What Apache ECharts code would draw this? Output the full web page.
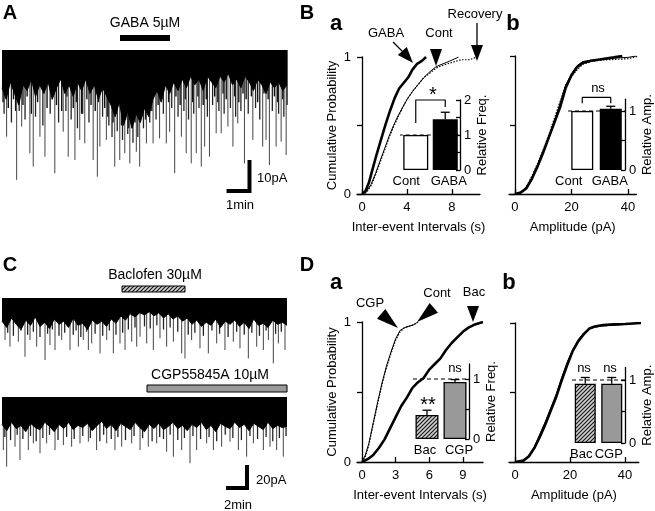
<!DOCTYPE html>
<html><head><meta charset="utf-8">
<script src="https://cdn.jsdelivr.net/npm/echarts@6/dist/echarts.min.js"></script>
<style>html,body{margin:0;padding:0;background:#fff}#c{width:655px;height:511px}</style>
</head><body><div id="c"></div>
<script>
// ---------------- DATA ----------------
// Panel A trace (time in min, current depth in pA below baseline)
const traceA_envT = [0,0.2,0.4,0.6,0.8,1.0,1.2,1.4,1.6,1.8,2.0,2.2,2.4,2.6,2.8,3.0,3.2,3.4,3.6,3.8,4.0,4.2,4.4,4.6,4.8,5.0,5.2,5.4,5.6,5.8,6.0,6.2,6.4,6.6,6.8,7.0,7.2,7.4,7.6,7.8,8.0,8.2,8.4,8.6,8.8,9.0,9.2,9.4,9.6,9.8,10.0,10.2,10.4,10.6,10.8,11.0,11.2,11.4,11.6,11.8,12.0,12.2,12.4,12.6,12.8,13.0,13.2,13.4,13.6];
const traceA_envDepth = [13,17,11,15,19,12, 14,10,16,12,15, 11,17,13,10,15, 12,16,11,14,10, 15,12,17,13,16, 19,23,18,26,21, 27,22,25,20,23, 17,14,18,12,15, 11,14,10,13,9, 12,10,14,9,11, 13,9,11,8,12, 10,13,9,11,14, 10,12,15,11,13, 11,14,12];
const traceA_bigT = [0.22,0.70,0.94,1.33,1.49,1.81,2.05,2.52,2.92,3.16,3.48,3.71,3.95,4.35,4.55,4.67,4.98,5.38,5.62,5.86,6.10,6.41,6.57,6.89,7.21,7.52,7.84,8.00,8.24,8.56,8.79,9.03,9.27,9.51,9.67,9.90,10.22,10.46,10.78,11.02,11.25,11.57,11.97,12.44,12.60,12.76,13.08,13.32,13.56];
const traceA_bigAmp = [29.9,44.8,26.4,35.6,40.2,29.9,36.8,42.5,28.2,36.8,37.9,31.0,32.2,37.9,43.7,33.3,31.0,40.2,37.9,35.6,39.1,35.1,40.2,32.2,32.2,30.5,32.2,28.2,42.5,29.9,35.6,39.1,35.6,40.2,33.3,36.8,28.7,28.7,26.4,33.3,25.3,39.1,31.0,33.3,31.0,39.7,33.3,31.6,36.2];
const traceA_midT = [0.1,0.45,0.82,1.1,1.6,1.95,2.3,2.7,3.05,3.3,3.6,3.85,4.15,4.8,5.1,5.25,5.5,5.75,6.0,6.25,6.48,6.75,7.05,7.35,7.7,8.1,8.4,8.68,8.9,9.15,9.4,9.8,10.05,10.35,10.6,10.9,11.15,11.4,11.75,12.1,12.3,12.9,13.2,13.45];
const traceA_midAmp = [22,25,21,24,23,26,22,25,21,24,27,22,25,23,26,30,28,31,29,32,30,27,25,24,22,20,23,21,24,22,20,23,19,21,22,20,23,21,22,20,24,21,22,23];
const traceA_smallT = [0.05,0.3,0.55,0.65,1.0,1.2,1.4,1.7,2.15,2.4,2.6,2.85,3.1,3.4,3.55,3.8,4.05,4.25,4.45,4.6,4.9,5.05,5.3,5.45,5.7,5.9,6.05,6.2,6.35,6.6,6.85,7.0,7.15,7.45,7.6,7.95,8.3,8.5,8.75,9.1,9.35,9.6,9.75,10.15,10.3,10.55,10.7,11.1,11.3,11.5,11.65,11.9,12.2,12.5,12.7,13.0,13.15,13.4,13.6];
const traceA_smallAmp = [18,20,17,21,19,16,22,18,20,17,19,21,16,20,18,22,17,19,21,18,20,23,25,22,26,24,27,23,25,22,24,20,21,19,17,18,16,19,17,18,16,19,17,16,18,15,17,16,18,15,17,16,18,15,17,16,18,17,19];

// Panel C traces (time in min, pA)
const traceC_envT = [0,0.5,1,1.5,2,2.5,3,3.5,4,4.5,5,5.5,6,6.5,7,7.5,8,8.5,9,9.5,10,10.5,11,11.5,12,12.5,13,13.5,14,14.5,15,15.5,16,16.5,17,17.5,18,18.5,19,19.5,20,20.5,21,21.5,22,22.5,23,23.5,24,24.5,25,25.5,26,26.5,27,27.5,28,28.5,29,29.5,30];
const traceC1_envDepth = [22,28,19,25,30,21,26,18,27,23, 29,20,25,22,28,19,26,24,30,21, 25,22,27,20,24,17,21,15,18,14, 16,13,17,14,19,15,20,17,22,19, 25,21,27,23,26,20,28,22,25,21, 27,23,29,20,26,24,28,21,25,23, 26];
const traceC2_envDepth = [26,32,24,30,27,33,25,29,31,24, 28,33,26,30,24,31,27,29,25,32, 27,23,30,26,32,25,28,31,24,29, 33,26,30,25,31,28,24,30,27,32, 26,29,24,31,27,33,25,28,30,24, 29,26,32,25,28,31,24,30,27,29, 28];
const traceC1_spikeT = [0.32,0.84,1.72,2.42,2.95,3.65,4.53,5.05,5.58,6.28,7.16,8.04,8.56,9.09,9.44,10.32,11.02,11.72,12.42,12.95,13.65,14.18,14.53,15.23,15.93,16.63,17.33,18.04,18.91,19.26,19.96,20.84,21.72,22.60,23.47,24.35,25.05,25.93,26.81,27.51,28.04,28.56,29.09,29.79];
const traceC1_spikeAmp = [40.0,46.3,41.6,55.9,40.0,46.3,59.0,44.8,49.5,40.0,49.5,46.3,40.0,49.5,43.2,52.7,40.0,52.7,43.2,49.5,41.6,46.3,36.8,43.2,49.5,38.4,46.3,41.6,52.7,57.5,40.0,47.9,52.7,43.2,49.5,41.6,47.9,57.5,46.3,49.5,40.0,62.2,43.2,49.5];
const traceC1_midT = [0.6,1.2,2.0,2.7,3.3,4.0,4.8,5.3,6.0,6.6,7.5,7.8,8.3,8.9,9.8,10.6,11.3,12.0,12.7,13.3,14.0,15.0,15.6,16.3,17.0,17.7,18.5,19.6,20.3,21.2,22.1,22.9,23.8,24.7,25.5,26.3,27.1,27.8,28.8,29.4];
const traceC1_midAmp = [33,36,31,35,32,37,34,30,36,33,35,31,37,32,34,36,31,35,33,30,28,27,29,26,30,28,32,35,33,36,31,34,37,32,35,33,36,31,34,32];
const traceC2_spikeT = [0.14,0.49,1.37,1.89,2.77,3.30,4.00,4.70,5.58,6.46,7.33,8.21,9.09,9.96,11.02,11.89,12.60,13.65,14.53,15.40,16.28,17.33,18.04,18.91,19.79,20.49,21.54,22.25,23.12,24.00,24.88,25.75,26.46,27.51,28.21,28.91,29.61];
const traceC2_spikeAmp = [50.5,66.3,47.3,60.0,50.5,44.1,53.7,44.1,50.5,45.7,47.3,44.1,42.5,50.5,44.1,50.5,47.3,44.1,50.5,47.3,44.1,52.1,56.8,50.5,63.1,50.5,44.1,50.5,47.3,42.5,50.5,56.8,44.1,50.5,47.3,50.5,56.8];
const traceC2_midT = [0.3,0.9,1.6,2.2,3.0,3.6,4.3,5.0,5.9,6.8,7.6,8.5,9.3,10.3,10.7,11.5,12.2,13.0,13.9,14.8,15.8,16.6,17.0,17.7,18.5,19.2,20.1,20.9,21.8,22.6,23.5,24.3,25.2,26.1,26.9,27.8,28.5,29.2,29.9];
const traceC2_midAmp = [38,41,36,40,37,42,39,36,41,38,40,37,39,42,36,40,38,41,37,39,42,38,40,36,41,39,37,40,38,42,36,39,41,37,40,38,42,39,37];

// Panel B a: cumulative inter-event intervals (s)
const baGabaX = [0,0.3,0.6,0.9,1.3,1.7,2.1,2.5,2.9,3.3,3.7,4.1,4.5,4.9,5.3,5.7];
const baGabaY = [0,0.02,0.08,0.17,0.29,0.4,0.51,0.61,0.7,0.77,0.81,0.85,0.91,0.95,0.97,1.0];
const baContX = [0,0.4,0.8,1.2,1.6,2.0,2.4,2.8,3.2,3.6,4.0,4.5,5.0,5.5,6.0,6.6,7.2,7.8,8.6];
const baContY = [0,0.02,0.07,0.15,0.24,0.33,0.42,0.5,0.57,0.63,0.69,0.75,0.8,0.85,0.89,0.93,0.95,0.97,1.0];
const baRecX = [0,0.4,0.8,1.2,1.6,2.0,2.4,2.8,3.2,3.6,4.0,4.5,5.0,5.5,6.0,6.6,7.2,8.0,8.8,9.6,10.2];
const baRecY = [0,0.01,0.06,0.14,0.23,0.32,0.41,0.49,0.56,0.63,0.69,0.75,0.8,0.85,0.88,0.92,0.94,0.96,0.98,0.98,1.0];
const baBarCats = ['Cont','GABA'];
const baBarVals = [1.0,1.45];
const baBarErr = [0,0.2];
const baBracket = [1.34,2.0,1.8];

// Panel B b: cumulative amplitude (pA)
const bbContX = [0,2,4,6,8,10,12,14,16,18,20,22,24,27,30,35,40,43];
const bbContY = [0,0.01,0.05,0.12,0.21,0.31,0.42,0.53,0.66,0.79,0.87,0.93,0.96,0.97,0.975,0.985,0.99,1.0];
const bbGabaX = [0,2,4,6,8,10,12,14,16,18,20,22,24,27,30,35,38];
const bbGabaY = [0,0.01,0.04,0.11,0.2,0.3,0.41,0.52,0.63,0.77,0.86,0.92,0.95,0.965,0.975,0.99,1.0];
const bbRecX = [0,2,4,6,8,10,12,14,16,18,20,22,24,27,30,35,40,44];
const bbRecY = [0,0.01,0.05,0.13,0.22,0.32,0.43,0.55,0.67,0.79,0.85,0.9,0.94,0.96,0.97,0.975,0.98,1.0];
const bbBarCats = ['Cont','GABA'];
const bbBarVals = [1.0,1.04];
const bbBarErr = [0,0.04];
const bbBracket = [1.13,1.23,1.13];

// Panel D a
const daCgpX = [0,0.3,0.6,1.0,1.4,1.8,2.2,2.6,3.0,3.4,3.8,4.2,4.6,5.0];
const daCgpY = [0,0.05,0.13,0.28,0.43,0.57,0.69,0.79,0.88,0.94,0.96,0.97,0.98,1.0];
const daContX = [0,0.3,0.6,1.0,1.4,1.8,2.2,2.6,3.0,3.4,3.8,4.2,4.6,5.0];
const daContY = [0,0.04,0.12,0.27,0.42,0.56,0.68,0.78,0.87,0.93,0.96,0.97,0.98,1.0];
const daBacX = [0,0.5,1,1.5,2,2.5,3,3.5,4,4.5,5,5.5,6,6.5,7,7.5,8,8.5,9,9.5,10,10.8];
const daBacY = [0,0.02,0.05,0.1,0.16,0.24,0.32,0.4,0.46,0.53,0.57,0.6,0.66,0.7,0.74,0.8,0.85,0.89,0.93,0.96,0.98,1.0];
const daBarCats = ['Bac','CGP'];
const daBarVals = [0.4,0.95];
const daBarErr = [0.08,0.04];

// Panel D b
const dbBacX = [0,3,5,7,9,11,13,15,17,19,21,23,25,27,29,32,36,40,46];
const dbBacY = [0,0.01,0.04,0.1,0.18,0.27,0.37,0.47,0.59,0.7,0.8,0.87,0.92,0.96,0.975,0.985,0.99,0.993,1.0];
const dbCgpX = [0,3,5,7,9,11,13,15,17,19,21,23,25,27,29,32,36,40,44];
const dbCgpY = [0,0.01,0.05,0.11,0.2,0.29,0.39,0.49,0.61,0.72,0.81,0.88,0.93,0.96,0.97,0.98,0.985,0.99,1.0];
const dbContX = [0,3,5,7,9,11,13,15,17,19,21,23,25,27,29,32,36,40,45];
const dbContY = [0,0.01,0.04,0.1,0.19,0.28,0.38,0.48,0.6,0.71,0.8,0.87,0.92,0.955,0.97,0.98,0.985,0.99,1.0];
const dbBarCats = ['Bac','CGP'];
const dbBarVals = [0.94,0.94];
const dbBarErr = [0.1,0.1];

// scale bars (trace units)
const scaleA = {t:10.81, y:-48.6, dt:1, dy:10};
const scaleC = {t:23.79, y:-86.7, dt:2, dy:20};

// ---------------- CHART ----------------
const FONT = '"Liberation Sans", Arial, Helvetica, sans-serif';
const zip = (a,b) => a.map((v,i)=>[v,b[i]]);

function makeHatch(bg, fg, s){
  const c=document.createElement('canvas'); c.width=s; c.height=s; const g=c.getContext('2d');
  g.fillStyle=bg; g.fillRect(0,0,s,s); g.strokeStyle=fg; g.lineWidth=1.2;
  g.beginPath(); g.moveTo(-1,s+1); g.lineTo(s+1,-1); g.moveTo(-1,1); g.lineTo(1,-1); g.moveTo(s-1,s+1); g.lineTo(s+1,s-1); g.stroke();
  return c;
}
const hatch = {image: makeHatch('#d0d0d0','#1a1a1a',4), repeat:'repeat'};

const grids = [
  {left:2, top:44.2, width:285, height:156.6},   //0 A
  {left:2, top:297, width:285, height:68.25},    //1 C1
  {left:2, top:396, width:285, height:95.55},    //2 C2
  {left:357, top:57, width:123, height:137},     //3 Ba
  {left:401, top:100, width:59, height:70},      //4 Ba inset
  {left:509, top:56, width:127.4, height:138},   //5 Bb
  {left:568, top:99.2, width:59, height:70.8},   //6 Bb inset
  {left:357, top:322, width:126, height:140},    //7 Da
  {left:413, top:364, width:56, height:75},      //8 Da inset
  {left:509, top:323, width:129.8, height:139},  //9 Db
  {left:572, top:367.4, width:53, height:75.6}   //10 Db inset
];

const axLine = {show:true, onZero:false, lineStyle:{color:'#000', width:1.3}};
const txt = (size)=>({fontFamily:FONT, fontSize:size, color:'#000'});

function hiddenX(g,max){return {gridIndex:g,type:'value',min:0,max:max,show:false};}
function hiddenY(g,min,max){return {gridIndex:g,type:'value',min:min,max:max,show:false};}
function mainX(g,min,max,ticks,name){
  return {gridIndex:g,type:'value',min:min,max:max,name:name,nameLocation:'middle',nameGap:27,nameTextStyle:txt(13),
    axisLine:axLine,axisTick:{show:true,inside:true,length:5,lineStyle:{color:'#000',width:1.3},customValues:ticks},
    axisLabel:{show:true,customValues:ticks,margin:7,...txt(13)},splitLine:{show:false}};
}
function mainY(g,labels,name){
  return {gridIndex:g,type:'value',min:0,max:1,name:name||'',nameLocation:'middle',nameGap:18,nameTextStyle:txt(13),
    axisLine:{show:true,onZero:true,lineStyle:{color:'#000',width:1.3}},
    axisTick:{show:true,length:5,lineStyle:{color:'#000',width:1.3},customValues:[0,0.5,1]},
    axisLabel:{show:labels,customValues:[0,1],margin:6,...txt(13)},splitLine:{show:false}};
}
// inset bar positions: value axis 0.5..2.5, bars at 1 and 2; rich padding shifts the labels sideways
function insetX(g,cats,padA,padB){
  return {gridIndex:g,type:'value',min:0.5,max:2.5,axisLine:{show:false},axisTick:{show:false},splitLine:{show:false},
    axisLabel:{customValues:[1,2],margin:5,...txt(13),
      formatter:(v)=> (v===1?'{a|':'{b|')+cats[v-1]+'}',
      rich:{a:{...txt(13),padding:padA},b:{...txt(13),padding:padB}}}};
}
function insetY(g,max,ticks,labels,name){
  return {gridIndex:g,type:'value',position:'right',min:0,max:max,name:name,nameLocation:'middle',nameRotate:90,nameGap:16,nameTextStyle:txt(13),
    axisLine:axLine,axisTick:{show:true,inside:true,length:4,lineStyle:{color:'#000',width:1.3},customValues:ticks},
    axisLabel:{show:true,customValues:labels,margin:4,...txt(13)},splitLine:{show:false}};
}

const xAxis = [
  hiddenX(0,13.6), hiddenX(1,30), hiddenX(2,30),
  mainX(3,-0.45,10.5,[0,4,8],'Inter-event Intervals (s)'),
  insetX(4,baBarCats,[0,19,0,0],[0,0,0,7]),
  mainX(5,-2.1,43,[0,20,40],'Amplitude (pA)'),
  insetX(6,bbBarCats,[0,27,0,0],[0,2,0,0]),
  mainX(7,-0.45,10.8,[0,3,6,9],'Inter-event Intervals (s)'),
  insetX(8,daBarCats,[0,4,0,0],[0,0,0,8]),
  mainX(9,-2.2,45,[0,20,40],'Amplitude (pA)'),
  insetX(10,dbBarCats,[0,8,0,0],[0,6,0,0])
];
const yAxis = [
  hiddenY(0,-52,2), hiddenY(1,-64,1), hiddenY(2,-90,1),
  mainY(3,true,'Cumulative Probability'),
  insetY(4,2,[0,0.5,1,1.5,2],[0,1,2],'Relative Freq.'),
  mainY(5,false),
  insetY(6,1.2,[0,0.5,1],[0,1],'Relative Amp.'),
  mainY(7,true,'Cumulative Probability'),
  insetY(8,1.25,[0,0.5,1],[0,1],'Relative Freq.'),
  mainY(9,false),
  insetY(10,1.2,[0,0.5,1],[0,1],'Relative Amp.')
];

const series = [];
function band(ax, t, d){
  series.push({type:'line',xAxisIndex:ax,yAxisIndex:ax,data:zip(t,d.map(v=>-v)),symbol:'none',
    lineStyle:{color:'#000',width:1},areaStyle:{color:'#000',opacity:1,origin:'auto'},silent:true,z:3});
}
function spikes(ax, t, a, color, w){
  series.push({type:'custom',xAxisIndex:ax,yAxisIndex:ax,data:zip(t,a),encode:{x:0,y:1},silent:true,z:2,
    renderItem:function(p,api){
      const p0=api.coord([api.value(0),0]); const p1=api.coord([api.value(0),-api.value(1)]);
      return {type:'line',shape:{x1:p0[0],y1:p0[1],x2:p1[0],y2:p1[1]},style:{stroke:color,lineWidth:w}};
    }});
}
function scaleBar(ax, s){
  series.push({type:'line',xAxisIndex:ax,yAxisIndex:ax,clip:false,symbol:'none',silent:true,
    data:[[s.t,s.y],[s.t+s.dt,s.y],[s.t+s.dt,s.y+s.dy]],lineStyle:{color:'#000',width:4,join:'miter',cap:'square'}});
}
band(0,traceA_envT,traceA_envDepth);
spikes(0,traceA_smallT,traceA_smallAmp,'#111',1.4);
spikes(0,traceA_midT,traceA_midAmp,'#222',1.3);
spikes(0,traceA_bigT,traceA_bigAmp,'#444',1);
scaleBar(0,scaleA);
band(1,traceC_envT,traceC1_envDepth);
spikes(1,traceC1_midT,traceC1_midAmp,'#222',1.3);
spikes(1,traceC1_spikeT,traceC1_spikeAmp,'#444',1);
band(2,traceC_envT,traceC2_envDepth);
spikes(2,traceC2_midT,traceC2_midAmp,'#222',1.3);
spikes(2,traceC2_spikeT,traceC2_spikeAmp,'#444',1);
scaleBar(2,scaleC);

function curve(ax,x,y,style){
  const ls = style==='thick'?{color:'#000',width:2.6}:style==='dot'?{color:'#000',width:1.2,type:[1.5,1.5]}:{color:'#000',width:1};
  series.push({type:'line',xAxisIndex:ax,yAxisIndex:ax,data:zip(x,y),symbol:'none',lineStyle:ls,silent:true,z: style==='thick'?4:3});
}
curve(3,baRecX,baRecY,'dot');
curve(3,baContX,baContY,'thin');
curve(3,baGabaX,baGabaY,'thick');
curve(5,bbRecX,bbRecY,'dot');
curve(5,bbContX,bbContY,'thin');
curve(5,bbGabaX,bbGabaY,'thick');
curve(7,daContX,daContY,'dot');
curve(7,daCgpX,daCgpY,'thin');
curve(7,daBacX,daBacY,'thick');
curve(9,dbContX,dbContY,'dot');
curve(9,dbCgpX,dbCgpY,'thin');
curve(9,dbBacX,dbBacY,'thick');

function bars(ax, vals, fills, width, errs, dashFrom){
  // reference level 1.0, dashed
  series.push({type:'line',xAxisIndex:ax,yAxisIndex:ax,clip:false,symbol:'none',silent:true,z:4,
    data:[[dashFrom,1],[2.5,1]],lineStyle:{color:'#000',width:1,type:[4,3]}});
  series.push({type:'bar',xAxisIndex:ax,yAxisIndex:ax,barWidth:width,silent:true,z:5,
    data:vals.map((v,i)=>({value:[i+1,v],itemStyle:{color:fills[i]}})),
    itemStyle:{borderColor:'#000',borderWidth:1.3}});
  series.push({type:'custom',xAxisIndex:ax,yAxisIndex:ax,clip:false,silent:true,z:6,
    data:vals.map((v,i)=>[i+1,v,errs[i]]).filter(d=>d[2]>0),encode:{x:0,y:1},
    renderItem:function(p,api){
      const x=api.value(0), top=api.value(1), e=api.value(2);
      const p0=api.coord([x,top]), p1=api.coord([x,top+e]);
      return {type:'group',children:[
        {type:'line',shape:{x1:p0[0],y1:p0[1],x2:p1[0],y2:p1[1]},style:{stroke:'#000',lineWidth:1.3}},
        {type:'line',shape:{x1:p1[0]-4.5,y1:p1[1],x2:p1[0]+4.5,y2:p1[1]},style:{stroke:'#000',lineWidth:1.3}}]};
    }});
}
bars(4,baBarVals,['#fff','#000'],25,baBarErr,-0.05);
bars(6,bbBarVals,['#fff','#000'],22,bbBarErr,0.5);
bars(8,daBarVals,[hatch,'#999'],23,daBarErr,0.5);
bars(10,dbBarVals,[hatch,'#999'],21,dbBarErr,0.5);

function bracket(ax, b){
  series.push({type:'line',xAxisIndex:ax,yAxisIndex:ax,clip:false,symbol:'none',silent:true,z:6,
    data:[[1,b[0]],[1,b[1]],[2,b[1]],[2,b[2]]],lineStyle:{color:'#000',width:1.2}});
}
bracket(4,baBracket);
bracket(6,bbBracket);

// ---------------- ANNOTATIONS ----------------
function T(text,x,y,size,opts){
  opts=opts||{};
  return {type:'text',x:x,y:y,z:20,style:{text:text,font:(opts.bold?'bold ':'')+size+'px '+FONT,fill:'#000',
    align:opts.align||'center',verticalAlign:'middle'}};
}
function head(tx,ty,ang,len,wid){
  const a=ang*Math.PI/180, dx=Math.cos(a), dy=Math.sin(a);
  const bx=tx-dx*len, by=ty-dy*len, px=-dy, py=dx;
  return {type:'polygon',z:20,shape:{points:[[tx,ty],[bx+px*wid/2,by+py*wid/2],[bx-px*wid/2,by-py*wid/2]]},style:{fill:'#000'}};
}
function shaft(x1,y1,x2,y2){return {type:'line',z:20,shape:{x1,y1,x2,y2},style:{stroke:'#000',lineWidth:1.3}};}

const graphic = [
  T('A',10,13,20,{bold:true}), T('B',307,13,20,{bold:true}),
  T('a',336,24,22,{bold:true}), T('b',513,24,22,{bold:true}),
  T('C',10,265,20,{bold:true}), T('D',307,265,20,{bold:true}),
  T('a',336,283,22,{bold:true}), T('b',509,283,22,{bold:true}),
  T('GABA 5µM',145,23,14),
  {type:'rect',z:20,shape:{x:120,y:35,width:50,height:6},style:{fill:'#000'}},
  T('Baclofen 30µM',155,275,14),
  {type:'rect',z:20,shape:{x:122,y:286,width:63,height:6},style:{fill:hatch,stroke:'#000',lineWidth:1}},
  T('CGP55845A 10µM',210,375,14),
  {type:'rect',z:20,shape:{x:147,y:385,width:140,height:7},style:{fill:'#999',stroke:'#000',lineWidth:1}},
  T('10pA',257,178,13,{align:'left'}), T('1min',240,205,13),
  T('20pA',256,480,13,{align:'left'}), T('2min',238,505,13),
  // B a arrows
  T('GABA',386,33,13), shaft(393,42,405,54), head(413,63,48,16,12),
  T('Cont',439,33,13), head(436,66,90,17,12),
  T('Recovery',475,14,13), shaft(477,23,477,46), head(477,61,90,16,12),
  T('*',433,95,20), T('ns',598,88,13),
  // D a arrows
  T('CGP',370,303,13), head(398,328,40,22,13),
  T('Cont',437,293,13), head(417,322,140,22,13),
  T('Bac',474,292,13), head(473,322,90,16,12),
  T('**',428,405,20), T('ns',455,368,13),
  T('ns',584,368,13), T('ns',610,368,13)
];

const chart = echarts.init(document.getElementById('c'), null, {renderer:'canvas'});
chart.setOption({animation:false,backgroundColor:'#fff',grid:grids,xAxis:xAxis,yAxis:yAxis,series:series,graphic:graphic});
</script></body></html>
